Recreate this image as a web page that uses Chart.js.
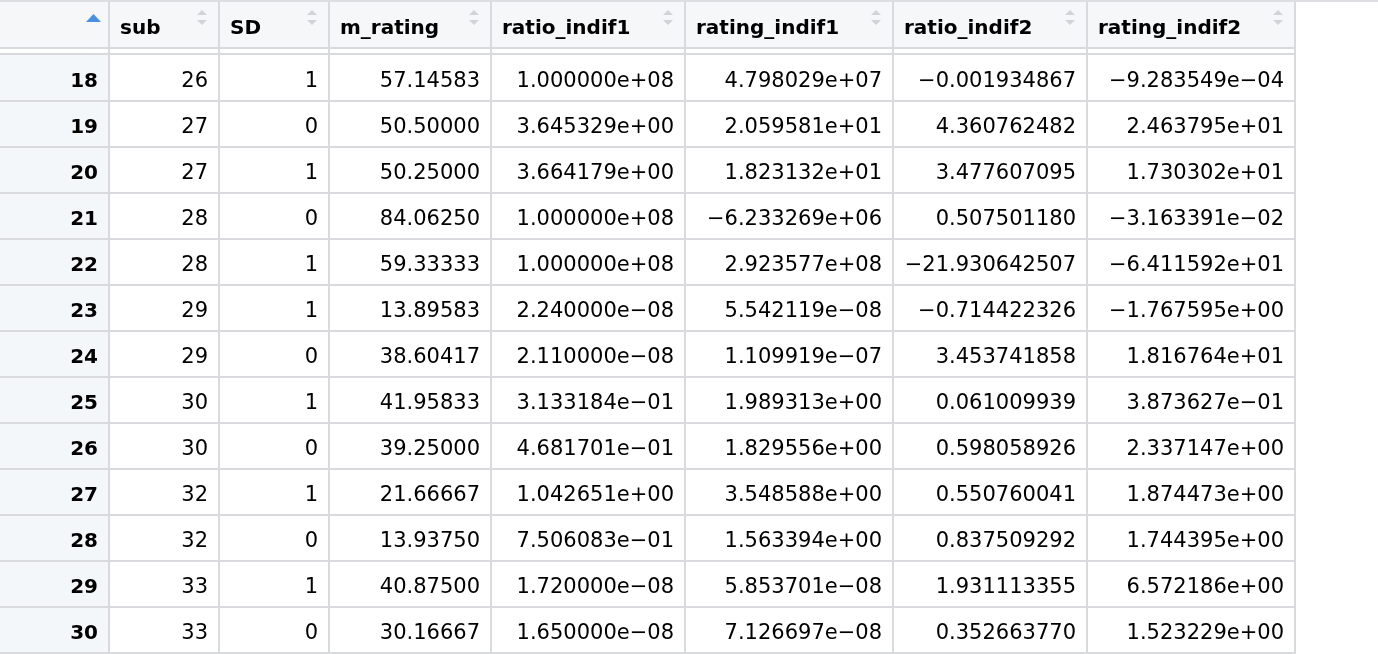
<!DOCTYPE html>
<html>
<head>
<meta charset="utf-8">
<script src="https://cdn.jsdelivr.net/npm/chart.js@4/dist/chart.umd.min.js"></script>
<style>
  html, body { margin: 0; padding: 0; background: #ffffff; }
  #wrap { width: 1378px; height: 654px; position: relative; }
</style>
</head>
<body>
<div id="wrap"><canvas id="c"></canvas></div>
<script>
// ---------------- data ----------------
const headers = ['sub', 'SD', 'm_rating', 'ratio_indif1', 'rating_indif1', 'ratio_indif2', 'rating_indif2'];
const rowNumbers = [18, 19, 20, 21, 22, 23, 24, 25, 26, 27, 28, 29, 30];
const sub = [26, 27, 27, 28, 28, 29, 29, 30, 30, 32, 32, 33, 33];
const SD = [1, 0, 1, 0, 1, 1, 0, 1, 0, 1, 0, 1, 0];
const m_rating = [57.14583, 50.50000, 50.25000, 84.06250, 59.33333, 13.89583, 38.60417,
                  41.95833, 39.25000, 21.66667, 13.93750, 40.87500, 30.16667];
const ratio_indif1 = [1.000000e+08, 3.645329e+00, 3.664179e+00, 1.000000e+08, 1.000000e+08,
                      2.240000e-08, 2.110000e-08, 3.133184e-01, 4.681701e-01, 1.042651e+00,
                      7.506083e-01, 1.720000e-08, 1.650000e-08];
const rating_indif1 = [4.798029e+07, 2.059581e+01, 1.823132e+01, -6.233269e+06, 2.923577e+08,
                       5.542119e-08, 1.109919e-07, 1.989313e+00, 1.829556e+00, 3.548588e+00,
                       1.563394e+00, 5.853701e-08, 7.126697e-08];
const ratio_indif2 = [-0.001934867, 4.360762482, 3.477607095, 0.507501180, -21.930642507,
                      -0.714422326, 3.453741858, 0.061009939, 0.598058926, 0.550760041,
                      0.837509292, 1.931113355, 0.352663770];
const rating_indif2 = [-9.283549e-04, 2.463795e+01, 1.730302e+01, -3.163391e-02, -6.411592e+01,
                       -1.767595e+00, 1.816764e+01, 3.873627e-01, 2.337147e+00, 1.874473e+00,
                       1.744395e+00, 6.572186e+00, 1.523229e+00];

const columns = [sub, SD, m_rating, ratio_indif1, rating_indif1, ratio_indif2, rating_indif2];

// ---------------- formatting (R print style) ----------------
const MINUS = '\u2212';
const fmtInt = v => String(v).replace('-', MINUS);
const fmtFixed = d => v => v.toFixed(d).replace('-', MINUS);
const fmtExp = v => v.toExponential(6)
  .replace(/e([+-])(\d+)$/, (m, s, e) => 'e' + s + (e.length < 2 ? '0' + e : e))
  .replace(/-/g, MINUS);
const formats = [fmtInt, fmtInt, fmtFixed(5), fmtExp, fmtExp, fmtFixed(9), fmtExp];

// ---------------- layout ----------------
const W = 1378, H = 654;
const COL_EDGES = [0, 109, 219, 329, 491, 685, 893, 1087, 1295]; // x units
const TABLE_RIGHT = 1296;
const CELL_PAD = 11;
// y axis in row units: row i centred at index i
const ROW0_PX = 78, ROW_PX = 46;
const toRow = px => (px - ROW0_PX) / ROW_PX;
const HEADER_CENTER = toRow(25);
const Y_LINES = [toRow(48), toRow(54)].concat(rowNumbers.map((_, i) => i + 0.5));

const GRID = '#d8dadd';
const HEADER_BG = '#f6f7f9';
const ROWNUM_BG = '#f4f7f9';
const TEXT = '#000000';
const BODY_FONT = '21px "DejaVu Sans"';
const BOLD_FONT = 'bold 20px "DejaVu Sans"';
const BASELINE_OFF = 9;

const datasets = [{
  label: 'row',
  data: rowNumbers.map((r, i) => ({ x: COL_EDGES[1] - CELL_PAD, y: i })),
  text: rowNumbers.map(String),
  bold: true,
  pointRadius: 0, pointHoverRadius: 0
}].concat(columns.map((col, c) => ({
  label: headers[c],
  data: col.map((v, i) => ({ x: COL_EDGES[c + 2] - CELL_PAD, y: i })),
  text: col.map(formats[c]),
  bold: false,
  pointRadius: 0, pointHoverRadius: 0
})));

const tablePlugin = {
  id: 'table',
  beforeDraw(chart) {
    const { ctx, scales: { x, y } } = chart;
    ctx.save();
    // header background
    ctx.fillStyle = HEADER_BG;
    const hx0 = x.getPixelForValue(0), hx1 = x.getPixelForValue(COL_EDGES[8] - 1);
    const hy0 = y.getPixelForValue(toRow(2)), hy1 = y.getPixelForValue(toRow(47));
    ctx.fillRect(hx0, hy0, hx1 - hx0, hy1 - hy0);
    // row-number column background
    ctx.fillStyle = ROWNUM_BG;
    const ry0 = y.getPixelForValue(toRow(55)), ry1 = y.getPixelForValue(toRow(H));
    ctx.fillRect(hx0, ry0, x.getPixelForValue(COL_EDGES[1] - 1) - hx0, ry1 - ry0);
    ctx.restore();
  },
  afterDatasetsDraw(chart) {
    const { ctx, scales: { x, y } } = chart;
    ctx.save();
    ctx.fillStyle = TEXT;
    ctx.textBaseline = 'alphabetic';
    // cell texts
    chart.data.datasets.forEach((ds, d) => {
      const meta = chart.getDatasetMeta(d);
      ctx.font = ds.bold ? BOLD_FONT : BODY_FONT;
      ctx.textAlign = 'right';
      meta.data.forEach((el, i) => {
        ctx.fillText(ds.text[i], el.x, el.y + BASELINE_OFF);
      });
    });
    // header labels
    ctx.font = BOLD_FONT;
    ctx.textAlign = 'left';
    const hy = y.getPixelForValue(HEADER_CENTER) + BASELINE_OFF;
    headers.forEach((h, c) => {
      ctx.fillText(h, x.getPixelForValue(COL_EDGES[c + 1]) + CELL_PAD, hy);
    });
    // sort icons
    const py = v => y.getPixelForValue(toRow(v));
    ctx.fillStyle = '#d0d3d7';
    headers.forEach((h, c) => {
      const cx = x.getPixelForValue(COL_EDGES[c + 2]) - 17;
      ctx.beginPath();
      ctx.moveTo(cx - 5, py(15)); ctx.lineTo(cx + 5, py(15)); ctx.lineTo(cx, py(10)); ctx.closePath();
      ctx.fill();
      ctx.beginPath();
      ctx.moveTo(cx - 5, py(20)); ctx.lineTo(cx + 5, py(20)); ctx.lineTo(cx, py(25)); ctx.closePath();
      ctx.fill();
    });
    ctx.fillStyle = '#4a90e2';
    const bx = x.getPixelForValue(COL_EDGES[1]) - 15.5;
    ctx.beginPath();
    ctx.moveTo(bx - 7.5, py(22)); ctx.lineTo(bx + 7.5, py(22)); ctx.lineTo(bx, py(14)); ctx.closePath();
    ctx.fill();
    ctx.restore();
  },
  afterDraw(chart) {
    const { ctx, scales: { y } } = chart;
    ctx.save();
    ctx.fillStyle = '#dcdee1';
    ctx.fillRect(0, y.getPixelForValue(toRow(0)), chart.width, 2);
    ctx.restore();
  }
};

new Chart(document.getElementById('c'), {
  type: 'scatter',
  data: { datasets },
  options: {
    responsive: true,
    maintainAspectRatio: false,
    animation: false,
    events: [],
    layout: { padding: { left: 0, top: 0, bottom: 0, right: W - TABLE_RIGHT } },
    plugins: { legend: { display: false }, tooltip: { enabled: false } },
    scales: {
      x: {
        type: 'linear', min: 0, max: TABLE_RIGHT,
        ticks: { display: false, autoSkip: false },
        border: { display: false },
        grid: { color: GRID, lineWidth: 2, drawTicks: false },
        afterBuildTicks: s => { s.ticks = COL_EDGES.slice(1).map(v => ({ value: v })); }
      },
      y: {
        type: 'linear', reverse: true, min: toRow(0), max: toRow(H),
        ticks: { display: false, autoSkip: false },
        border: { display: false },
        grid: { color: GRID, lineWidth: 2, drawTicks: false },
        afterBuildTicks: s => { s.ticks = Y_LINES.map(v => ({ value: v })); }
      }
    }
  },
  plugins: [tablePlugin]
});
</script>
</body>
</html>
